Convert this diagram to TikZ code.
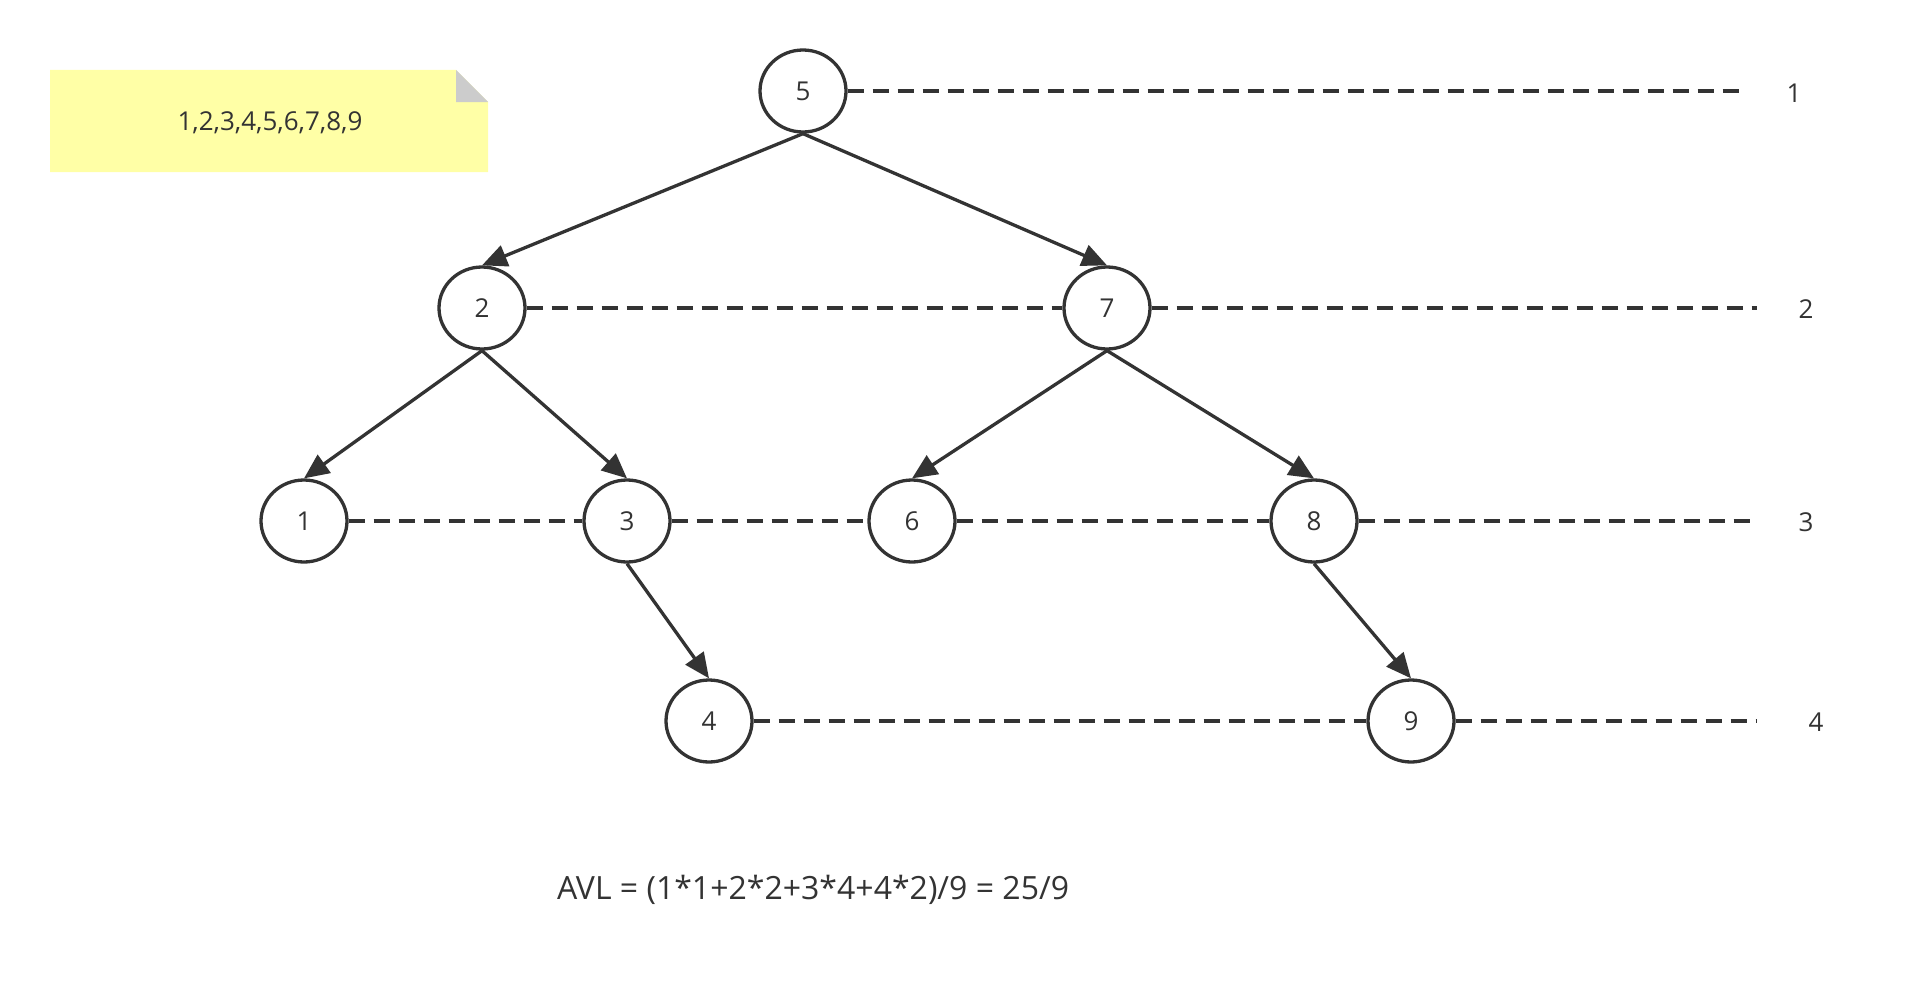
\documentclass[tikz,border=0pt]{standalone}
\usepackage{fontspec}
\setmainfont{Open Sans}
\usetikzlibrary{arrows.meta,shapes.geometric}
\definecolor{ink}{HTML}{333333}
\definecolor{notey}{HTML}{FFFFA6}
\definecolor{foldg}{HTML}{CCCCCC}
\tikzset{
  tnode/.style={ellipse,draw=ink,line width=3.3pt,minimum width=86pt,minimum height=82pt,inner sep=0pt,text=ink,font=\fontsize{26}{30}\selectfont},
  edge/.style={draw=ink,line width=3.3pt,-{Triangle[length=25pt,width=22pt]}},
  lvl/.style={draw=ink,line width=3.3pt,dash pattern=on 16pt off 9pt},
  lbl/.style={text=ink,font=\fontsize{26}{30}\selectfont,inner sep=0pt}
}
\begin{document}
\begin{tikzpicture}[x=1pt,y=-1pt]
\useasboundingbox (0,0) rectangle (1916,998);
% sticky note
\fill[notey] (50,70) -- (456,70) -- (488,102) -- (488,172) -- (50,172) -- cycle;
\fill[foldg] (456,70) -- (456,102) -- (488,102) -- cycle;
\node[lbl] (note) at (270,123) {1,2,3,4,5,6,7,8,9};
% tree nodes
\node[tnode] (n5) at (803,91) {5};
\node[tnode] (n2) at (482,308) {2};
\node[tnode] (n7) at (1107,308) {7};
\node[tnode] (n1) at (304,521) {1};
\node[tnode] (n3) at (627,521) {3};
\node[tnode] (n6) at (912,521) {6};
\node[tnode] (n8) at (1314,521) {8};
\node[tnode] (n4) at (709,721) {4};
\node[tnode] (n9) at (1411,721) {9};
% level ends
\coordinate (e1) at (1747,91);
\coordinate (e2) at (1757,308);
\coordinate (e3) at (1757,521);
\coordinate (e4) at (1757,721);
% level labels
\node[lbl] (l1) at (1794,93) {1};
\node[lbl] (l2) at (1806,309) {2};
\node[lbl] (l3) at (1806,522) {3};
\node[lbl] (l4) at (1816,722) {4};
% dashed level lines
\draw[lvl] (n5.east) -- (e1);
\draw[lvl] (n2.east) -- (n7.west);
\draw[lvl] (n7.east) -- (e2);
\draw[lvl] (n1.east) -- (n3.west);
\draw[lvl] (n3.east) -- (n6.west);
\draw[lvl] (n6.east) -- (n8.west);
\draw[lvl] (n8.east) -- (e3);
\draw[lvl] (n4.east) -- (n9.west);
\draw[lvl] (n9.east) -- (e4);
% edges
\draw[edge] (n5.south) -- (n2.north);
\draw[edge] (n5.south) -- (n7.north);
\draw[edge] (n2.south) -- (n1.north);
\draw[edge] (n2.south) -- (n3.north);
\draw[edge] (n7.south) -- (n6.north);
\draw[edge] (n7.south) -- (n8.north);
\draw[edge] (n3.south) -- (n4.north);
\draw[edge] (n8.south) -- (n9.north);
% formula
\node[lbl,font=\fontsize{32}{38}\selectfont] (avl) at (813,890) {AVL = (1*1+2*2+3*4+4*2)/9 = 25/9};
\end{tikzpicture}
\end{document}
